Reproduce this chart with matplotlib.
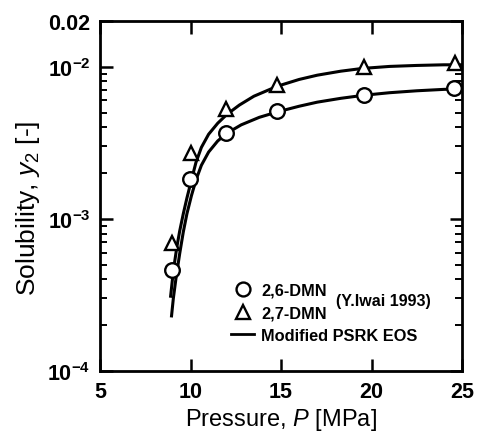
import matplotlib.pyplot as plt
from matplotlib.lines import Line2D

plt.rcParams['font.family'] = ['Liberation Sans', 'DejaVu Sans']
plt.rcParams['mathtext.fontset'] = 'custom'
plt.rcParams['mathtext.rm'] = 'Liberation Sans'
plt.rcParams['mathtext.it'] = 'Liberation Sans:italic'
plt.rcParams['mathtext.bf'] = 'Liberation Sans:bold'

# experimental data (Y.Iwai 1993)
p_26 = [8.98, 9.97, 11.96, 14.78, 19.6, 24.56]
y_26 = [4.6e-4, 1.83e-3, 3.68e-3, 5.1e-3, 6.5e-3, 7.3e-3]
p_27 = [8.98, 10.05, 11.96, 14.78, 19.6, 24.6]
y_27 = [6.9e-4, 2.7e-3, 5.3e-3, 7.6e-3, 9.9e-3, 1.06e-2]

# modified PSRK EOS curves
p_calc26 = [8.95, 9.05, 9.2, 9.4, 9.6, 9.8, 10.05, 10.3, 10.6, 11.0, 11.5, 12.0, 12.8, 13.8,
            14.8, 16.0, 17.0, 18.3, 19.6, 21.0, 22.5, 24.0, 25.0]
y_calc26 = [2.3e-4, 3.0e-4, 4.1e-4, 5.9e-4, 8.2e-4, 1.08e-3, 1.42e-3, 1.8e-3, 2.25e-3, 2.75e-3,
            3.25e-3, 3.65e-3, 4.15e-3, 4.65e-3, 5.05e-3, 5.5e-3, 5.85e-3, 6.2e-3, 6.5e-3,
            6.75e-3, 6.95e-3, 7.1e-3, 7.15e-3]
p_calc27 = [8.9, 9.0, 9.1, 9.25, 9.4, 9.6, 9.8, 10.05, 10.3, 10.6, 11.0, 11.5, 12.0, 12.7, 13.5,
            14.8, 16.0, 17.0, 18.3, 19.5, 21.0, 22.5, 24.0, 25.0]
y_calc27 = [3.1e-4, 4.0e-4, 5.0e-4, 6.6e-4, 8.3e-4, 1.08e-3, 1.37e-3, 1.8e-3, 2.35e-3, 2.95e-3,
            3.6e-3, 4.25e-3, 4.85e-3, 5.6e-3, 6.4e-3, 7.45e-3, 8.25e-3, 8.8e-3, 9.35e-3,
            9.75e-3, 1.005e-2, 1.02e-2, 1.03e-2, 1.03e-2]

x_ticks = [5, 10, 15, 20, 25]
y_ticks = [1e-4, 1e-3, 1e-2, 0.02]
y_tick_labels = [r'$\mathbf{10^{-4}}$', r'$\mathbf{10^{-3}}$', r'$\mathbf{10^{-2}}$', '0.02']

fig = plt.figure(figsize=(4.81, 4.35), dpi=100)
ax = fig.add_axes([0.208, 0.145, 0.7525, 0.8045])

ax.plot(p_calc26, y_calc26, color='black', lw=2.2)
ax.plot(p_calc27, y_calc27, color='black', lw=2.2)
ax.plot(p_26, y_26, 'o', ms=10.5, mfc='white', mec='black', mew=1.7, ls='none')
ax.plot(p_27, y_27, '^', ms=10.5, mfc='white', mec='black', mew=1.7, ls='none')

ax.set_yscale('log')
ax.set_xlim(5, 25)
ax.set_ylim(1e-4, 0.02)
ax.set_xticks(x_ticks)
ax.set_xticklabels([str(t) for t in x_ticks], fontsize=15.5, fontweight='bold')
ax.set_yticks(y_ticks)
ax.set_yticklabels(y_tick_labels, fontsize=15.5, fontweight='bold')
ax.tick_params(which='major', direction='in', length=9, width=1.8, top=True, right=True,
               pad=7)
ax.tick_params(which='minor', direction='in', length=5, width=1.4, top=True, right=True)
ax.tick_params(axis='x', which='minor', bottom=False, top=False)
ax.tick_params(axis='y', which='major', pad=7)
for s in ax.spines.values():
    s.set_linewidth(2)

ax.set_xlabel(r'Pressure, $\mathit{P}$ [MPa]', fontsize=17)
ax.xaxis.set_label_coords(0.5, -0.1)
ax.set_ylabel(r'Solubility, $\mathit{y}_2$ [-]', fontsize=19)
ax.yaxis.set_label_coords(-0.16, 0.466)

handles = [Line2D([], [], marker='o', ls='none', ms=10, mfc='white', mec='black', mew=1.7),
           Line2D([], [], marker='^', ls='none', ms=10, mfc='white', mec='black', mew=1.7),
           Line2D([], [], color='black', lw=2.0)]
labels = ['2,6-DMN', '2,7-DMN', 'Modified PSRK EOS']
leg = ax.legend(handles, labels, loc='upper left', bbox_to_anchor=(0.345, 0.27),
                frameon=False, handlelength=1.35, handletextpad=0.45, labelspacing=0.45,
                borderaxespad=0, prop={'size': 11.8, 'weight': 'bold'})
ax.text(0.652, 0.2, '(Y.Iwai 1993)', transform=ax.transAxes, fontsize=11.5,
        fontweight='bold', va='center', ha='left')

fig.savefig('out.png', dpi=100)
